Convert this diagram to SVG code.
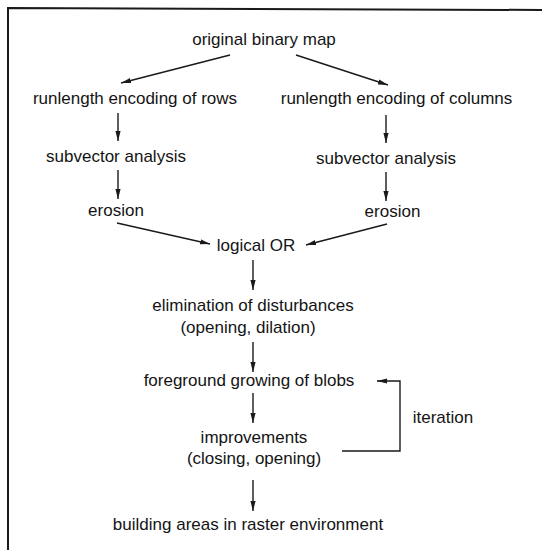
<svg xmlns="http://www.w3.org/2000/svg" width="542" height="550" viewBox="0 0 542 550">
<defs>
<marker id="ah" markerWidth="10" markerHeight="6" refX="10" refY="3" orient="auto" markerUnits="userSpaceOnUse">
<path d="M0,0.4 L10,3 L0,5.6 Z" fill="#1a1a1a"/>
</marker>
<style>
text{font-family:"Liberation Sans",Arial,sans-serif;font-size:17px;fill:#141414;text-anchor:middle}
.c{stroke:#1a1a1a;stroke-width:1.4;fill:none}
.a{marker-end:url(#ah)}
.f{stroke:#1a1a1a;stroke-width:2;fill:none}
</style>
</defs>
<rect width="542" height="550" fill="#fff"/>
<g id="frame">
<path class="f" d="M8,550 L8,8 L542,10"/>
</g>
<g id="connectors">
<line class="c a" x1="230" y1="55" x2="121" y2="83"/>
<line class="c a" x1="296" y1="55" x2="388" y2="85"/>
<line class="c a" x1="118" y1="113" x2="118" y2="141"/>
<line class="c a" x1="386" y1="115" x2="386" y2="143"/>
<line class="c a" x1="118" y1="170" x2="118" y2="199"/>
<line class="c a" x1="386" y1="172" x2="386" y2="201"/>
<line class="c a" x1="117" y1="223" x2="210" y2="244"/>
<line class="c a" x1="387" y1="224" x2="306" y2="245"/>
<line class="c a" x1="253" y1="260" x2="253" y2="290"/>
<line class="c a" x1="253" y1="342" x2="253" y2="372"/>
<line class="c a" x1="253" y1="393" x2="253" y2="423"/>
<line class="c a" x1="253" y1="480" x2="253" y2="511"/>
<path class="c a" d="M342,451 L400,451 L400,381 L377,381"/>
</g>
<g id="n-original"><text x="264" y="45">original binary map</text></g>
<g id="n-rle-rows"><text x="135" y="104">runlength encoding of rows</text></g>
<g id="n-rle-cols"><text x="396.5" y="104">runlength encoding of columns</text></g>
<g id="n-subvec-left"><text x="116" y="162">subvector analysis</text></g>
<g id="n-subvec-right"><text x="386" y="164">subvector analysis</text></g>
<g id="n-erosion-left"><text x="116" y="216">erosion</text></g>
<g id="n-erosion-right"><text x="392.5" y="217">erosion</text></g>
<g id="n-or"><text x="256" y="251">logical OR</text></g>
<g id="n-elim"><text x="253" y="311">elimination of disturbances</text><text x="248" y="333">(opening, dilation)</text></g>
<g id="n-foreground"><text x="249" y="386">foreground growing of blobs</text></g>
<g id="n-iteration"><text x="443" y="423">iteration</text></g>
<g id="n-improve"><text x="254" y="443">improvements</text><text x="254" y="464">(closing, opening)</text></g>
<g id="n-building"><text x="248" y="530">building areas in raster environment</text></g>
</svg>
